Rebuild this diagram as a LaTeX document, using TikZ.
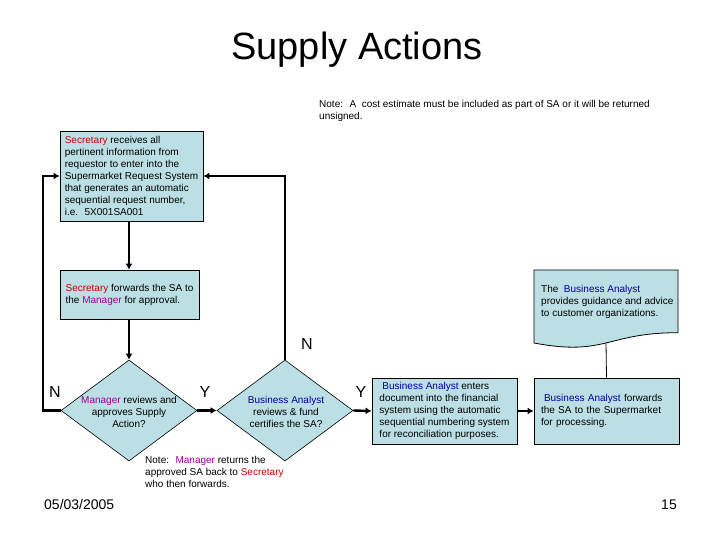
\documentclass[tikz,border=0pt]{standalone}
\usepackage{fontspec}
\setmainfont{Liberation Sans}
\usetikzlibrary{shapes.geometric,arrows.meta}

\definecolor{boxfill}{RGB}{187,223,228}
\definecolor{secred}{RGB}{204,0,0}
\definecolor{mgrpurple}{RGB}{153,0,153}
\definecolor{bablue}{RGB}{0,0,153}

\newcommand{\secr}{\textcolor{secred}{Secretary}}
\newcommand{\mgr}{\textcolor{mgrpurple}{Manager}}
\newcommand{\busan}{\textcolor{bablue}{Business Analyst}}

\begin{document}
\begin{tikzpicture}[x=1pt, y=-1pt,
        box/.style={draw, line width=0.8pt, fill=boxfill, align=left, inner xsep=4pt, inner ysep=0pt, font=\fontsize{10}{12}\selectfont},
        decision/.style={diamond, draw, line width=0.6pt, fill=boxfill, minimum width=136pt, minimum height=101pt, inner sep=0pt},
        dtext/.style={align=center, inner sep=0pt, font=\fontsize{10}{12}\selectfont},
        note/.style={align=left, inner sep=0pt, font=\fontsize{10}{12}\selectfont},
        flow/.style={line width=2.4pt, -{Latex[length=6pt,width=7pt]}},
        yn/.style={inner sep=0pt, font=\fontsize{16}{16}\selectfont}]
    \useasboundingbox (0,0) rectangle (720,540);

    \node[anchor=base, font=\fontsize{38}{38}\selectfont] (title) at (357,60) {Supply Actions};
    \node[note, anchor=west] (costnote) at (319,111) {Note:~ A~ cost estimate must be included as part of SA or it will be returned\\unsigned.};

    \node[box, minimum width=143pt, minimum height=90pt] (recv) at (131.5,176) {\secr{} receives all\\pertinent information from\\requestor to enter into the\\Supermarket Request System\\that generates an automatic\\sequential request number,\\i.e.~ 5X001SA001};
    \node[box, minimum width=139pt, minimum height=49pt] (fwd) at (129.5,294.5) {\secr{} forwards the SA to\\the \mgr{} for approval.};

    % document shape
    \draw[line width=0.8pt, fill=boxfill] (534,270) -- (678,270) -- (678,332.7) .. controls (606,332.7) and (606,356.6) .. (534,343) -- cycle;
    \coordinate (docb) at (606,343);
    \node[note, anchor=west] (guide) at (541,302) {The~ \busan\\provides guidance and advice\\to customer organizations.};

    \node[decision] (review) at (129,410.5) {};
    \node[dtext] (reviewtxt) at (129,412) {\mgr{} reviews and\\approves Supply\\Action?};
    \node[decision] (certify) at (285,410.5) {};
    \node[dtext] (certifytxt) at (286,412) {\busan\\reviews \& fund\\certifies the SA?};

    \node[box, minimum width=145pt, minimum height=66pt] (enter) at (444.5,411) {\hspace*{3pt}\busan{} enters\\document into the financial\\system using the automatic\\sequential numbering system\\for reconciliation purposes.};
    \node[box, inner xsep=7pt, text width=131pt, minimum height=66pt] (fwdsm) at (606.5,411) {\hspace*{3pt}\busan{} forwards\\the SA to the Supermarket\\for processing.};

    \draw[flow] (recv.south -| review) -- (fwd.north -| review);
    \draw[flow] (fwd.south -| review) -- (review.north);
    \draw[flow] (review.west) -- ++(-18,0) |- (recv.west);
    \draw[flow] (certify.north) |- (recv.east);
    \draw[flow] (review.east) -- (certify.west);
    \draw[flow] (certify.east) -- (enter.west);
    \draw[flow] (enter.east) -- (fwdsm.west);
    \draw[line width=0.8pt] (docb) -- (fwdsm.north);

    \node[yn] (nleft) at (55,392) {N};
    \node[yn] (yfirst) at (205,392) {Y};
    \node[yn] (ntop) at (307,344) {N};
    \node[yn] (ysecond) at (361,392) {Y};

    \node[note, anchor=west] (returnnote) at (145,472) {Note:~ \mgr{} returns the\\approved SA back to \secr\\who then forwards.};

    \node[anchor=base west, inner sep=0pt, font=\fontsize{14}{14}\selectfont] (date) at (44,509) {05/03/2005};
    \node[anchor=base east, inner sep=0pt, font=\fontsize{14}{14}\selectfont] (pageno) at (677,509) {15};
\end{tikzpicture}
\end{document}
